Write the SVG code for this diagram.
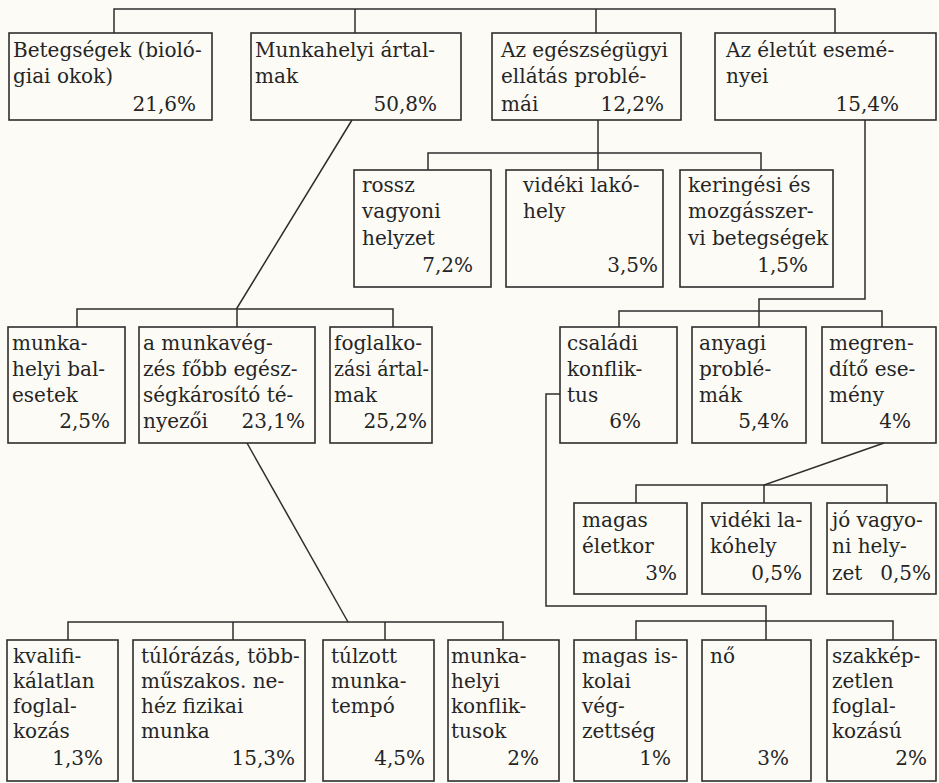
<svg xmlns="http://www.w3.org/2000/svg" width="939" height="783" viewBox="0 0 939 783">
<style>
.bg{fill:#fcfbf6}
.box{fill:none;stroke:#2e2e2e;stroke-width:1.6}
.ln{fill:none;stroke:#2e2e2e;stroke-width:1.5}
text{font-family:"DejaVu Serif","Liberation Serif",serif;font-size:20px;fill:#252525}
.r{text-anchor:end}
</style>
<rect class="bg" x="0" y="0" width="939" height="783"/>
<g id="connectors">
<polyline class="ln" points="114,33 114,9 835,9 835,33"/>
<line class="ln" x1="355" y1="9" x2="355" y2="33"/>
<line class="ln" x1="596" y1="9" x2="596" y2="33"/>
<polyline class="ln" points="428,170 428,153 761,153 761,170"/>
<line class="ln" x1="598" y1="120" x2="598" y2="170"/>
<polyline class="ln" points="352,120 237,308 237,327"/>
<polyline class="ln" points="77,327 77,309 393,309 393,327"/>
<polyline class="ln" points="865,120 865,299 759,299 759,327"/>
<polyline class="ln" points="619,327 619,311 882,311 882,327"/>
<polyline class="ln" points="560,394 546,394 546,606 766,606 766,640"/>
<polyline class="ln" points="884,443 764,485 764,503"/>
<polyline class="ln" points="636,503 636,485 887,485 887,503"/>
<polyline class="ln" points="247,443 348,622"/>
<polyline class="ln" points="68,640 68,622 503,622 503,640"/>
<line class="ln" x1="233" y1="622" x2="233" y2="640"/>
<line class="ln" x1="385" y1="622" x2="385" y2="640"/>
<polyline class="ln" points="636,640 636,621 893,621 893,640"/>
</g>
<g id="n-betegsegek"><rect class="box" x="9" y="33" width="203" height="87"/><text x="13" y="57">Betegségek (bioló-</text><text x="13" y="83">giai okok)</text><text class="r" x="196" y="111">21,6%</text></g>
<g id="n-munkahelyi"><rect class="box" x="251" y="33" width="210" height="87"/><text x="255" y="57">Munkahelyi ártal-</text><text x="255" y="83">mak</text><text class="r" x="437" y="111">50,8%</text></g>
<g id="n-egeszsegugyi"><rect class="box" x="492" y="33" width="189" height="87"/><text x="501" y="57">Az egészségügyi</text><text x="501" y="83">ellátás problé-</text><text x="501" y="111">mái</text><text class="r" x="664" y="111">12,2%</text></g>
<g id="n-eletut"><rect class="box" x="715" y="33" width="221" height="87"/><text x="726" y="57">Az életút esemé-</text><text x="726" y="83">nyei</text><text class="r" x="899" y="111">15,4%</text></g>
<g id="n-rossz"><rect class="box" x="354" y="170" width="137" height="117"/><text x="362" y="192">rossz</text><text x="362" y="218">vagyoni</text><text x="362" y="245">helyzet</text><text class="r" x="473" y="272">7,2%</text></g>
<g id="n-videki1"><rect class="box" x="506" y="170" width="157" height="117"/><text x="523" y="192">vidéki lakó-</text><text x="523" y="218">hely</text><text class="r" x="658" y="272">3,5%</text></g>
<g id="n-keringesi"><rect class="box" x="680" y="170" width="153" height="117"/><text x="688" y="192">keringési és</text><text x="688" y="218">mozgásszer-</text><text x="688" y="245">vi betegségek</text><text class="r" x="808" y="272">1,5%</text></g>
<g id="n-balesetek"><rect class="box" x="8" y="327" width="117" height="116"/><text x="12" y="350">munka-</text><text x="12" y="376">helyi bal-</text><text x="12" y="402">esetek</text><text class="r" x="110" y="428">2,5%</text></g>
<g id="n-munkavegzes"><rect class="box" x="139" y="327" width="176" height="116"/><text x="143" y="350">a munkavég-</text><text x="143" y="376">zés főbb egész-</text><text x="143" y="402">ségkárosító té-</text><text x="143" y="428">nyezői</text><text class="r" x="305" y="428">23,1%</text></g>
<g id="n-foglalkozasi"><rect class="box" x="330" y="327" width="102" height="116"/><text x="334" y="350" textLength="88" lengthAdjust="spacingAndGlyphs">foglalko-</text><text x="334" y="376" textLength="95" lengthAdjust="spacingAndGlyphs">zási ártal-</text><text x="334" y="402">mak</text><text class="r" x="427" y="428">25,2%</text></g>
<g id="n-csaladi"><rect class="box" x="560" y="327" width="117" height="116"/><text x="567" y="350">családi</text><text x="567" y="376">konflik-</text><text x="567" y="402">tus</text><text class="r" x="641" y="428">6%</text></g>
<g id="n-anyagi"><rect class="box" x="692" y="327" width="114" height="116"/><text x="699" y="350">anyagi</text><text x="699" y="376">problé-</text><text x="699" y="402">mák</text><text class="r" x="789" y="428">5,4%</text></g>
<g id="n-megrendito"><rect class="box" x="822" y="327" width="114" height="116"/><text x="829" y="350">megren-</text><text x="829" y="376">dítő ese-</text><text x="829" y="402">mény</text><text class="r" x="911" y="428">4%</text></g>
<g id="n-eletkor"><rect class="box" x="574" y="503" width="113" height="91"/><text x="582" y="527">magas</text><text x="582" y="553">életkor</text><text class="r" x="677" y="580">3%</text></g>
<g id="n-videki2"><rect class="box" x="702" y="503" width="109" height="91"/><text x="710" y="527">vidéki la-</text><text x="710" y="553">kóhely</text><text class="r" x="802" y="580">0,5%</text></g>
<g id="n-jovagyoni"><rect class="box" x="827" y="503" width="109" height="91"/><text x="832" y="527">jó vagyo-</text><text x="832" y="553">ni hely-</text><text x="832" y="580">zet</text><text class="r" x="931" y="580">0,5%</text></g>
<g id="n-kvalifikalatlan"><rect class="box" x="7" y="640" width="111" height="141"/><text x="13" y="663">kvalifi-</text><text x="13" y="688">kálatlan</text><text x="13" y="713">foglal-</text><text x="13" y="738">kozás</text><text class="r" x="103" y="765">1,3%</text></g>
<g id="n-tulorazas"><rect class="box" x="133" y="640" width="172" height="141"/><text x="141" y="663">túlórázás, több-</text><text x="141" y="688">műszakos. ne-</text><text x="141" y="713">héz fizikai</text><text x="141" y="738">munka</text><text class="r" x="295" y="765">15,3%</text></g>
<g id="n-tulzott"><rect class="box" x="323" y="640" width="111" height="141"/><text x="331" y="663">túlzott</text><text x="331" y="688">munka-</text><text x="331" y="713">tempó</text><text class="r" x="425" y="765">4,5%</text></g>
<g id="n-konfliktusok"><rect class="box" x="448" y="640" width="111" height="141"/><text x="451" y="663">munka-</text><text x="451" y="688">helyi</text><text x="451" y="713">konflik-</text><text x="451" y="738">tusok</text><text class="r" x="539" y="765">2%</text></g>
<g id="n-iskolai"><rect class="box" x="574" y="640" width="113" height="141"/><text x="582" y="663">magas is-</text><text x="582" y="688">kolai</text><text x="582" y="713">vég-</text><text x="582" y="738">zettség</text><text class="r" x="671" y="765">1%</text></g>
<g id="n-no"><rect class="box" x="702" y="640" width="109" height="141"/><text x="710" y="663">nő</text><text class="r" x="789" y="765">3%</text></g>
<g id="n-szakkepzetlen"><rect class="box" x="827" y="640" width="109" height="141"/><text x="832" y="663">szakkép-</text><text x="832" y="688">zetlen</text><text x="832" y="713">foglal-</text><text x="832" y="738">kozású</text><text class="r" x="927" y="765">2%</text></g>
</svg>
